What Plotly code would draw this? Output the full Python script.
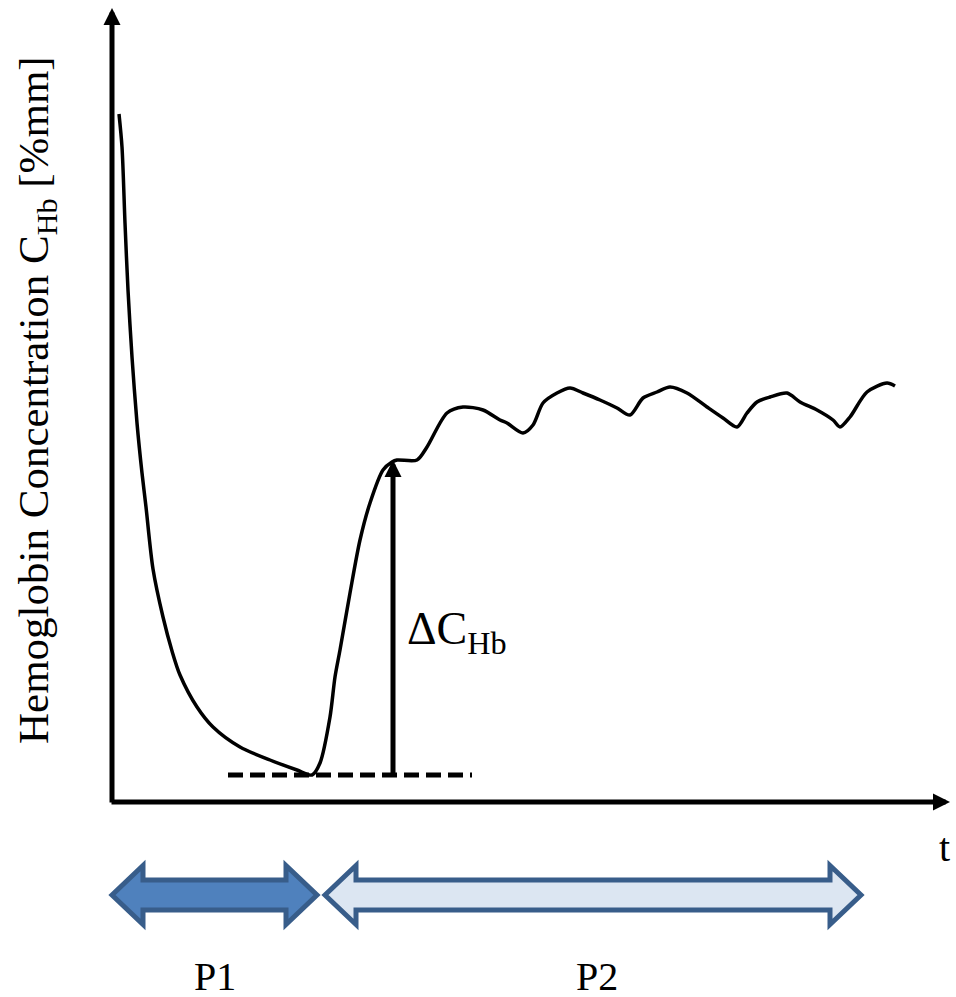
import plotly.graph_objects as go

# ---- data (arbitrary units: time t, concentration C) ----
t_vals = [7, 10, 13, 16, 20, 25, 30, 34, 41, 51, 60, 68, 85, 101, 128, 158, 185, 200,
          208, 218, 223, 228, 238, 248, 258, 271, 280, 285, 305, 315, 335, 351, 371,
          388, 395, 411, 421, 431, 445, 458, 471, 488, 505, 518, 531, 545, 558, 575,
          595, 611, 625, 635, 645, 658, 675, 688, 705, 721, 728, 738, 755, 775, 783]
c_vals = [688, 655, 579, 512, 445, 379, 329, 295, 233, 185, 151, 127, 95, 75, 55, 42, 32, 27,
          39, 85, 125, 152, 209, 262, 299, 332, 340, 342, 342, 355, 389, 395, 392,
          382, 379, 369, 377, 399, 409, 414, 409, 402, 394, 387, 404, 410, 415, 409,
          395, 384, 375, 389, 400, 405, 409, 400, 392, 382, 375, 385, 410, 419, 416]

baseline_t = [116, 360]
baseline_c = 27
delta_t = 281
delta_top = 342

x_axis_end = 838
y_axis_end = 794

phases = ["P1", "P2"]
phase_start = [0, 213]
phase_end = [205, 749]
phase_fill = ["#4F81BD", "#DCE6F2"]
phase_label_t = [103, 485]

FONT = "Liberation Serif, Times New Roman, serif"
OUTLINE = "#385D8A"

fig = go.Figure()

# curve
fig.add_trace(go.Scatter(x=t_vals, y=c_vals, mode="lines",
                         line=dict(color="black", width=3.5, shape="spline", smoothing=0.8),
                         hoverinfo="skip", showlegend=False))

# dashed baseline
fig.add_trace(go.Scatter(x=baseline_t, y=[baseline_c, baseline_c], mode="lines",
                         line=dict(color="black", width=5, dash="15px,7px"),
                         hoverinfo="skip", showlegend=False))

annotations = []
def arrow(x0, y0, x1, y1, width=5):
    annotations.append(dict(x=x1, y=y1, ax=x0, ay=y0, xref="x", yref="y",
                            axref="x", ayref="y", text="", showarrow=True,
                            arrowhead=2, arrowsize=0.68, arrowwidth=width,
                            arrowcolor="black"))

# axes
arrow(0, -2, 0, y_axis_end)
arrow(-2, 0, x_axis_end, 0)
# delta arrow
arrow(delta_t, baseline_c, delta_t, delta_top, width=5)

# block arrows for phases
yc = -93
head_h = 29.5
shaft_h = 15
head_len = 31
shapes = []
for s, e, col in zip(phase_start, phase_end, phase_fill):
    path = (f"M {s},{yc} L {s+head_len},{yc+head_h} L {s+head_len},{yc+shaft_h} "
            f"L {e-head_len},{yc+shaft_h} L {e-head_len},{yc+head_h} L {e},{yc} "
            f"L {e-head_len},{yc-head_h} L {e-head_len},{yc-shaft_h} "
            f"L {s+head_len},{yc-shaft_h} L {s+head_len},{yc-head_h} Z")
    shapes.append(dict(type="path", path=path, xref="x", yref="y",
                       fillcolor=col, line=dict(color=OUTLINE, width=5)))

for lab, tx in zip(phases, phase_label_t):
    annotations.append(dict(x=tx, y=-195, xref="x", yref="y", text=lab,
                            showarrow=False, font=dict(family=FONT, size=40, color="black"),
                            xanchor="center", yanchor="bottom", yshift=-4))

annotations.append(dict(x=293, y=170, xref="x", yref="y", text="ΔC<sub>Hb</sub>",
                        showarrow=False, font=dict(family=FONT, size=46, color="black"),
                        xanchor="left", yanchor="middle"))

annotations.append(dict(x=-75, y=402, xref="x", yref="y",
                        text="Hemoglobin Concentration C<sub>Hb</sub> [%mm]",
                        textangle=-90, showarrow=False,
                        font=dict(family=FONT, size=43, color="black"),
                        xanchor="center", yanchor="middle"))

annotations.append(dict(x=832, y=-45, xref="x", yref="y", text="t",
                        showarrow=False, font=dict(family=FONT, size=40, color="black"),
                        xanchor="center", yanchor="middle"))

fig.update_layout(
    width=956, height=997,
    margin=dict(l=0, r=0, t=0, b=0),
    paper_bgcolor="white", plot_bgcolor="white",
    font=dict(family=FONT),
    xaxis=dict(range=[-112, 844], visible=False, fixedrange=True),
    yaxis=dict(range=[-195, 802], visible=False, fixedrange=True),
    shapes=shapes, annotations=annotations, showlegend=False,
)

fig.write_html("out.html", config={"displayModeBar": False},
               post_script="document.body.style.margin='0';document.body.style.overflow='hidden';")
